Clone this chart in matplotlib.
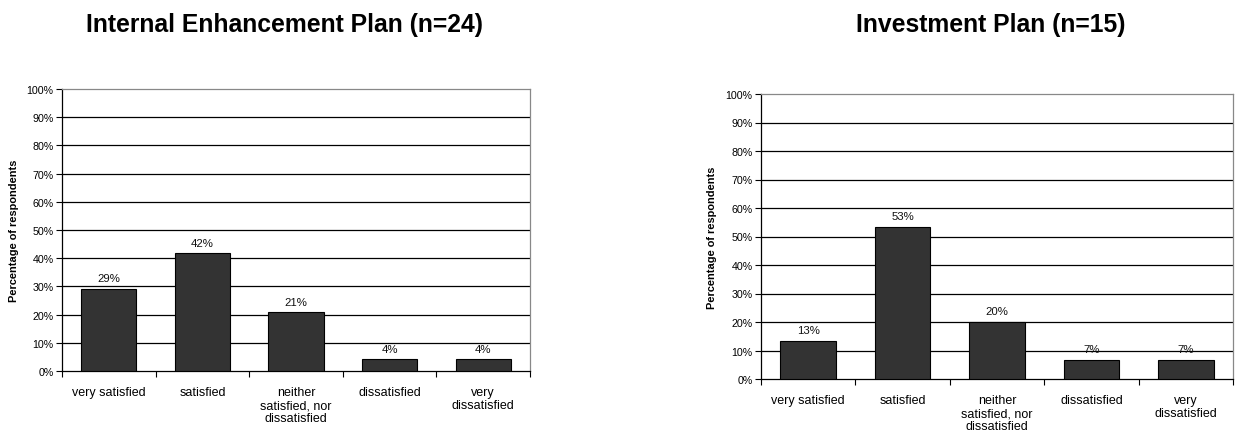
import matplotlib
matplotlib.use("Agg")
import matplotlib.pyplot as plt
from matplotlib.ticker import PercentFormatter, FixedLocator

plt.rcParams['font.family'] = ['Liberation Sans', 'DejaVu Sans']

categories = ["very satisfied", "satisfied", "neither\nsatisfied, nor\ndissatisfied",
              "dissatisfied", "very\ndissatisfied"]
internal_pct = [29.17, 41.67, 20.83, 4.17, 4.17]
investment_pct = [13.33, 53.33, 20.00, 6.67, 6.67]
titles = ["Internal Enhancement Plan (n=24)", "Investment Plan (n=15)"]
yticks = list(range(0, 101, 10))

W, H = 1235, 435
fig = plt.figure(figsize=(W / 100, H / 100), dpi=100)

def px_axes(x0, y0, x1, y1):
    return fig.add_axes([x0 / W, 1 - y1 / H, (x1 - x0) / W, (y1 - y0) / H])

panels = [
    (px_axes(62, 90, 530, 372), internal_pct, titles[0], 285, 14),
    (px_axes(761, 95, 1233, 380), investment_pct, titles[1], 991, 712),
]

for ax, vals, title, tx, ylx in panels:
    x = list(range(len(categories)))
    ax.set_xlim(-0.5, len(categories) - 0.5)
    ax.set_ylim(0, 100)
    for y in yticks[1:-1]:
        ax.axhline(y, color="black", lw=0.9, zorder=1)
    ax.bar(x, vals, width=0.59, color="#333333", edgecolor="black", lw=0.8, zorder=3)
    for xi, v in zip(x, vals):
        ax.text(xi, v + 2, f"{round(v):.0f}%", ha="center", va="bottom", fontsize=8.2, color="#111111")
    ax.yaxis.set_major_locator(FixedLocator(yticks))
    ax.yaxis.set_major_formatter(PercentFormatter(decimals=0))
    ax.tick_params(axis="y", labelsize=7.7, length=4, width=0.8, pad=2, direction="out")
    ax.set_xticks(x)
    ax.set_xticklabels(categories, fontsize=9, linespacing=1.1)
    ax.tick_params(axis="x", length=0, pad=11)
    ax.set_xticks([i + 0.5 for i in range(-1, len(categories))], minor=True)
    ax.tick_params(axis="x", which="minor", length=4, width=0.8, direction="out")
    for s in ("left", "bottom"):
        ax.spines[s].set_color("black")
        ax.spines[s].set_linewidth(0.9)
    for s in ("top", "right"):
        ax.spines[s].set_color("#888888")
        ax.spines[s].set_linewidth(0.9)
    pos = ax.get_position()
    fig.text(ylx / W, (pos.y0 + pos.y1) / 2, "Percentage of respondents", rotation=90,
             ha="center", va="center", fontsize=7.9, fontweight="bold")
    fig.text(tx / W, 1 - 25 / H, title, ha="center", va="center", fontsize=17.8, fontweight="bold")

fig.savefig("out.png", dpi=100)
